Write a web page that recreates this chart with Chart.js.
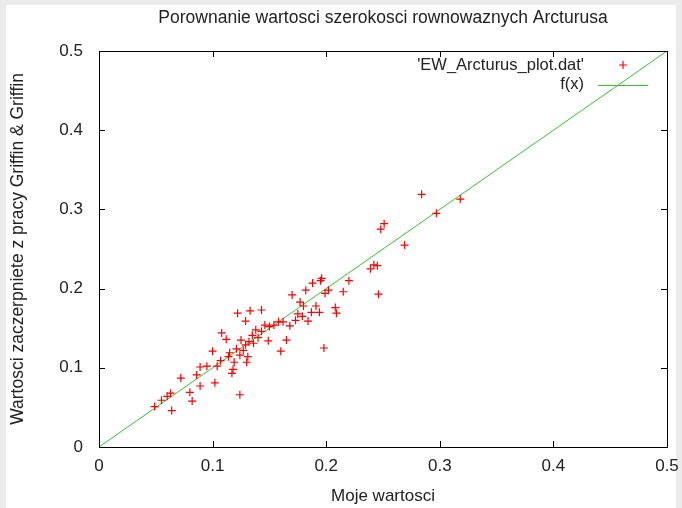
<!DOCTYPE html>
<html lang="pl">
<head>
  <meta charset="UTF-8" />
  <title>Porownanie wartosci szerokosci rownowaznych Arcturusa</title>
  <script src="https://cdn.jsdelivr.net/npm/chart.js"></script>
  <style>
    html, body {
      margin: 0;
      padding: 0;
      background: #ebebeb;
    }
    .frame {
      position: absolute;
      left: 6px;
      top: 5px;
      width: 670px;
      height: 503px;
      background: #fff;
    }
    .wrap {
      position: absolute;
      left: 0;
      top: 0;
      width: 682px;
      height: 508px;
    }
  </style>
</head>
<body>
  <div class="frame"></div>
  <div class="wrap"><canvas id="ew" width="682" height="508"></canvas></div>

  <script>
    // my values (x) vs. Griffin & Griffin values (y)
    const mojeWartosci = [
      0.049, 0.055, 0.060, 0.063, 0.064, 0.072, 0.080, 0.082, 0.086, 0.089,
      0.089, 0.095, 0.100, 0.102, 0.104, 0.107, 0.108, 0.112, 0.114, 0.115,
      0.117, 0.118, 0.119, 0.121, 0.122, 0.124, 0.124, 0.125, 0.127, 0.129,
      0.129, 0.130, 0.131, 0.132, 0.133, 0.135, 0.136, 0.138, 0.140, 0.143,
      0.143, 0.146, 0.149, 0.150, 0.154, 0.158, 0.160, 0.162, 0.165, 0.168,
      0.170, 0.173, 0.175, 0.177, 0.179, 0.180, 0.182, 0.184, 0.187, 0.188,
      0.191, 0.194, 0.195, 0.196, 0.198, 0.199, 0.202, 0.208, 0.209, 0.215,
      0.220, 0.239, 0.242, 0.245, 0.246, 0.248, 0.251, 0.269, 0.284, 0.297,
      0.318
    ];
    const griffinWartosci = [
      0.051, 0.059, 0.064, 0.068, 0.046, 0.087, 0.069, 0.058, 0.091, 0.101,
      0.077, 0.102, 0.121, 0.081, 0.102, 0.109, 0.144, 0.136, 0.114, 0.119,
      0.093, 0.098, 0.107, 0.124, 0.169, 0.066, 0.116, 0.135, 0.122, 0.129,
      0.159, 0.107, 0.114, 0.133, 0.172, 0.141, 0.131, 0.148, 0.138, 0.173,
      0.146, 0.154, 0.134, 0.152, 0.154, 0.158, 0.121, 0.158, 0.135, 0.153,
      0.192, 0.160, 0.168, 0.183, 0.165, 0.178, 0.198, 0.159, 0.170, 0.207,
      0.178, 0.170, 0.210, 0.213, 0.125, 0.194, 0.198, 0.176, 0.169, 0.196,
      0.210, 0.225, 0.230, 0.229, 0.193, 0.275, 0.282, 0.255, 0.319, 0.295,
      0.313
    ];
    // f(x) = x
    const fxX = [0, 0.5];
    const fxY = [0, 0.5];
    const tickValues = [0, 0.1, 0.2, 0.3, 0.4, 0.5];

    const FONT = "'Liberation Sans', Arial, sans-serif";
    const TXT = '#222';

    const points = mojeWartosci.map((x, i) => ({ x: x, y: griffinWartosci[i] }));
    const fxLine = fxX.map((x, i) => ({ x: x, y: fxY[i] }));

    // gnuplot style: box + inward ticks on all four sides + legend inside
    const gnuplotFrame = {
      id: 'gnuplotFrame',
      afterDraw(chart) {
        const c = chart.ctx;
        const a = chart.chartArea;
        const xs = chart.scales.x, ys = chart.scales.y;
        c.save();
        c.strokeStyle = '#000';
        c.lineWidth = 1;
        c.beginPath();
        tickValues.forEach(v => {
          const px = Math.round(xs.getPixelForValue(v)) + 0.5;
          c.moveTo(px, a.bottom); c.lineTo(px, a.bottom - 6);
          c.moveTo(px, a.top); c.lineTo(px, a.top + 6);
          const py = Math.round(ys.getPixelForValue(v)) + 0.5;
          c.moveTo(a.left, py); c.lineTo(a.left + 6, py);
          c.moveTo(a.right, py); c.lineTo(a.right - 6, py);
        });
        c.stroke();
        c.strokeRect(Math.round(a.left) + 0.5, Math.round(a.top) + 0.5,
          Math.round(a.right - a.left), Math.round(a.bottom - a.top));

        // legend
        c.font = '16.5px ' + FONT;
        c.fillStyle = TXT;
        c.textAlign = 'right';
        c.textBaseline = 'middle';
        const lx = a.right - 83;
        c.fillText("'EW_Arcturus_plot.dat'", lx, a.top + 14);
        c.fillText('f(x)', lx, a.top + 33);
        const sx = a.right - 44, sy = a.top + 14;
        c.strokeStyle = '#ff0000';
        c.lineWidth = 1.2;
        c.beginPath();
        c.moveTo(sx - 4, sy); c.lineTo(sx + 4, sy);
        c.moveTo(sx, sy - 4); c.lineTo(sx, sy + 4);
        c.stroke();
        c.strokeStyle = '#33c433';
        c.lineWidth = 1;
        c.beginPath();
        c.moveTo(a.right - 69, a.top + 34.5); c.lineTo(a.right - 19, a.top + 34.5);
        c.stroke();
        c.restore();
      }
    };

    new Chart(document.getElementById('ew'), {
      type: 'scatter',
      data: {
        datasets: [
          {
            label: "'EW_Arcturus_plot.dat'",
            data: points,
            pointStyle: 'cross',
            pointRadius: 4,
            pointBorderWidth: 1.2,
            borderColor: '#ff0000',
            backgroundColor: '#ff0000',
            order: 1
          },
          {
            label: 'f(x)',
            type: 'line',
            data: fxLine,
            borderColor: '#33c433',
            borderWidth: 1,
            pointRadius: 0,
            fill: false,
            order: 2
          }
        ]
      },
      plugins: [gnuplotFrame],
      options: {
        responsive: false,
        animation: false,
        devicePixelRatio: 1,
        layout: { padding: { left: 0, right: 15, top: 0, bottom: 0 } },
        plugins: {
          legend: { display: false },
          tooltip: { enabled: false },
          title: {
            display: true,
            fullSize: false,
            text: 'Porownanie wartosci szerokosci rownowaznych Arcturusa',
            color: TXT,
            font: { family: FONT, size: 17.5, weight: 'normal', lineHeight: 1.2 },
            padding: { top: 8, bottom: 22 }
          }
        },
        scales: {
          x: {
            type: 'linear',
            min: 0,
            max: 0.5,
            afterFit: s => { s.height = 61; s.paddingLeft = 0; s.paddingRight = 0; },
            afterBuildTicks: s => { s.ticks = tickValues.map(v => ({ value: v })); },
            grid: { display: false, drawTicks: false },
            border: { display: false },
            ticks: { color: TXT, padding: 9, font: { family: FONT, size: 17 } },
            title: {
              display: true,
              text: 'Moje wartosci',
              color: TXT,
              font: { family: FONT, size: 17 },
              padding: { top: 0, bottom: 1 }
            }
          },
          y: {
            type: 'linear',
            min: 0,
            max: 0.5,
            afterFit: s => { s.width = 99; s.paddingTop = 0; s.paddingBottom = 0; },
            afterBuildTicks: s => { s.ticks = tickValues.map(v => ({ value: v })); },
            grid: { display: false, drawTicks: false },
            border: { display: false },
            ticks: { color: TXT, padding: 16, font: { family: FONT, size: 17 } },
            title: {
              display: true,
              text: 'Wartosci zaczerpniete z pracy Griffin & Griffin',
              color: TXT,
              font: { family: FONT, size: 17.5 },
              padding: { top: 8, bottom: 0 }
            }
          }
        }
      }
    });
  </script>
</body>
</html>
